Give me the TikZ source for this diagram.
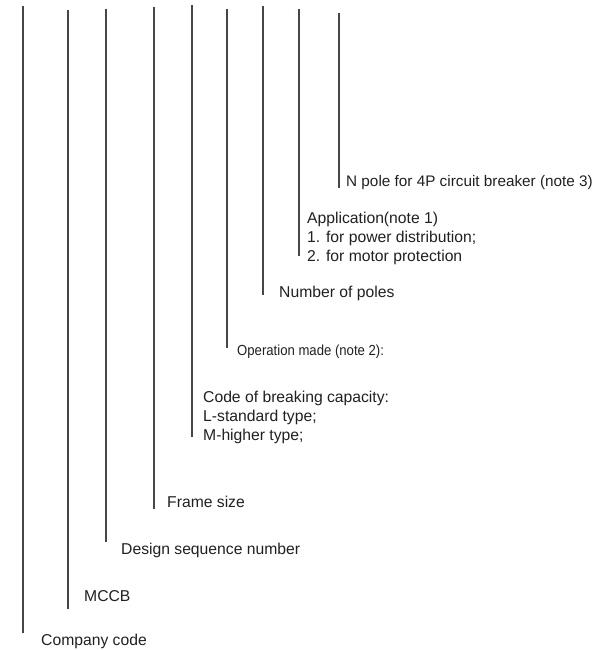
\documentclass[tikz,border=0pt]{standalone}
\usepackage{fontspec}
\setmainfont{Liberation Sans}
\newfontfamily\narrowfont[FakeStretch=0.9]{Liberation Sans}
\definecolor{linecol}{HTML}{4A4542}
\definecolor{txtcol}{HTML}{231F20}
\begin{document}
\begin{tikzpicture}[x=1pt,y=-1pt,
  lead/.style={draw=linecol,line width=1.4pt},
  lbl/.style={anchor=base west,inner sep=0pt,text=txtcol,font=\fontsize{15.7}{19}\selectfont},
  lblsmall/.style={lbl,font=\narrowfont\fontsize{14.6}{17}\selectfont}]
\useasboundingbox (0,0) rectangle (607,650);
% tops and bottoms of the leader lines
\coordinate (t1) at (23,6);   \coordinate (b1) at (23,633);
\coordinate (t2) at (68,10);  \coordinate (b2) at (68,609);
\coordinate (t3) at (106,9);  \coordinate (b3) at (106,542);
\coordinate (t4) at (154,7);  \coordinate (b4) at (154,509);
\coordinate (t5) at (192,5);  \coordinate (b5) at (192,437);
\coordinate (t6) at (227,9);  \coordinate (b6) at (227,348);
\coordinate (t7) at (263,6);  \coordinate (b7) at (263,295);
\coordinate (t8) at (299,9);  \coordinate (b8) at (299,256);
\coordinate (t9) at (339,13); \coordinate (b9) at (339,188);
\foreach \i in {1,...,9} \draw[lead] (t\i) -- (b\i);
% labels
\node[lbl,font=\fontsize{15.3}{19}\selectfont] (n9) at (346,186) {N pole for 4P circuit breaker (note 3)};
\node[lbl] (n8a) at (307,223) {Application(note 1)};
\node[lbl] (n8b) at (307,242) {1. for power distribution;};
\node[lbl] (n8c) at (307,261) {2. for motor protection};
\node[lbl] (n7) at (279,297) {Number of poles};
\node[lblsmall] (n6) at (237,355) {Operation made (note 2):};
\node[lbl] (n5a) at (203,402) {Code of breaking capacity:};
\node[lbl] (n5b) at (203,421) {L-standard type;};
\node[lbl] (n5c) at (203,440) {M-higher type;};
\node[lbl] (n4) at (167,507) {Frame size};
\node[lbl] (n3) at (121,554) {Design sequence number};
\node[lbl] (n2) at (84,601) {MCCB};
\node[lbl] (n1) at (41,645) {Company code};
\end{tikzpicture}
\end{document}
